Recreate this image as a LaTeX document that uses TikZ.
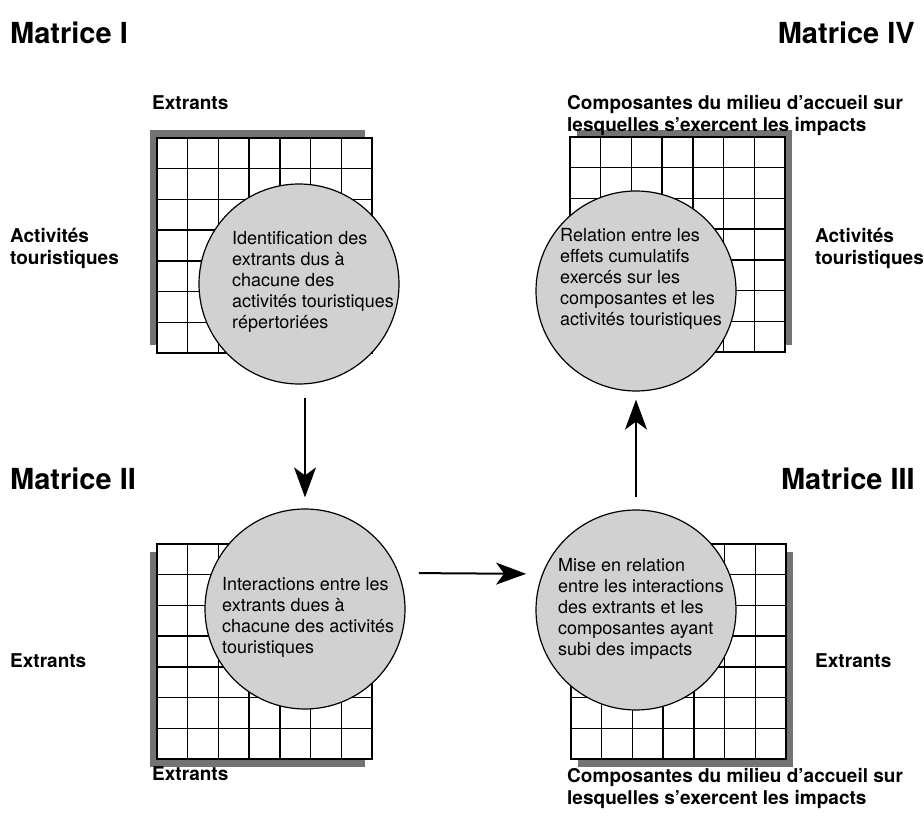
\documentclass[tikz,border=0pt]{standalone}
\usepackage{fontspec}
\setmainfont{TeX Gyre Heros}
\usetikzlibrary{arrows.meta}
\newcommand\matgrid[2]{%
  \fill[white] (#1,#2) rectangle ++(215,215);
  \foreach \k in {0,...,7}{%
    \draw[cell] ({#1+\k*215/7},#2) -- ++(0,215);
    \draw[cell] (#1,{#2+\k*215/7}) -- ++(215,0);
  }%
}
\begin{document}
\begin{tikzpicture}[x=1pt,y=-1pt,
  lbl/.style={font=\bfseries\fontsize{19}{22}\selectfont, inner sep=0pt, align=left},
  ttl/.style={font=\bfseries\fontsize{29}{34}\selectfont, inner sep=0pt},
  ctext/.style={font=\fontsize{18}{21}\selectfont, inner sep=0pt, align=left},
  bubble/.style={circle, draw, line width=1.2pt, fill=black!18, minimum size=200pt, inner sep=0pt},
  shadowbox/.style={fill=black!55},
  cell/.style={line width=1.3pt, line cap=rect},
  arr/.style={line width=2pt, -{Stealth[length=30pt, width=22pt, inset=8pt]}}
]
\useasboundingbox (0,0) rectangle (924,832);
\fill[white] (0,0) rectangle (924,832);

% Matrice I
\fill[shadowbox] (150,130) rectangle ++(215,215);
\matgrid{157}{138}
\node[bubble] (c1) at (299,284) {};
\node[ctext, anchor=base west] (x1) at (232,328) {Identification des\\extrants dus à\\chacune des\\activités touristiques\\répertoriées};

% Matrice II
\fill[shadowbox] (150,552) rectangle ++(215,215);
\matgrid{157}{544}
\node[bubble] (c2) at (305,609) {};
\node[ctext, anchor=base west] (x2) at (222,653) {Interactions entre les\\extrants dues à\\chacune des activités\\touristiques};

% Matrice III
\fill[shadowbox] (578,552) rectangle ++(215,215);
\matgrid{571}{544}
\node[bubble] (c3) at (636,610) {};
\node[ctext, anchor=base west] (x3) at (558,655) {Mise en relation\\entre les interactions\\des extrants et les\\composantes ayant\\subi des impacts};

% Matrice IV
\fill[shadowbox] (577,130) rectangle ++(215,215);
\matgrid{570}{137}
\node[bubble] (c4) at (636,291) {};
\node[ctext, anchor=base west] (x4) at (560,325) {Relation entre les\\effets cumulatifs\\exercés sur les\\composantes et les\\activités touristiques};

% arrows
\draw[arr, shorten <=13pt, shorten >=11pt] (c1.south -| c2.north) -- (c2.north);
\draw[arr, shorten <=20pt, shorten >=16pt] (c2.21) -- (c3.159);
\draw[arr, shorten <=12pt, shorten >=8pt] (c3.north) -- (c4.south);

% titles
\node[ttl, anchor=base west] (t1) at (10,44) {Matrice I};
\node[ttl, anchor=base east] (t4) at (915,44) {Matrice IV};
\node[ttl, anchor=base west] (t2) at (10,489) {Matrice II};
\node[ttl, anchor=base east] (t3) at (915,489) {Matrice III};

% labels
\node[lbl, anchor=base west] (l1) at (152,110) {Extrants};
\node[lbl, anchor=base west] (l2) at (567,132) {Composantes du milieu d’accueil sur\\lesquelles s’exercent les impacts};
\node[lbl, anchor=base west] (l3) at (10,264) {Activités\\touristiques};
\node[lbl, anchor=base west] (l4) at (815,264) {Activités\\touristiques};
\node[lbl, anchor=base west] (l5) at (10,667) {Extrants};
\node[lbl, anchor=base west] (l6) at (815,667) {Extrants};
\node[lbl, anchor=base west] (l7) at (152,780) {Extrants};
\node[lbl, anchor=base west] (l8) at (567,804) {Composantes du milieu d’accueil sur\\lesquelles s’exercent les impacts};
\end{tikzpicture}
\end{document}
